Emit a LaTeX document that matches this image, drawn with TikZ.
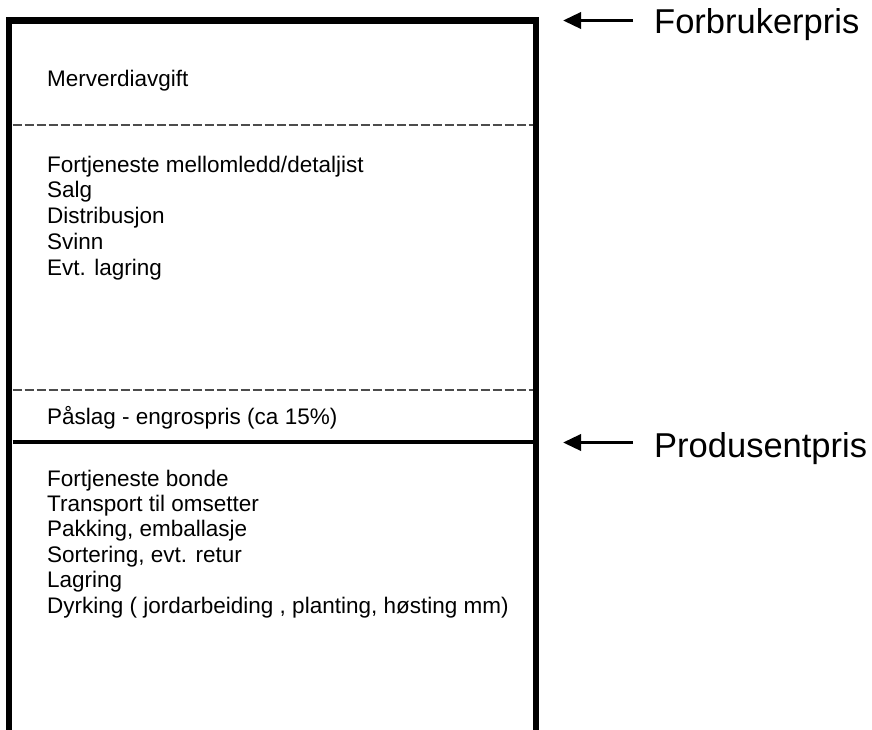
\documentclass[tikz,border=0pt]{standalone}
\usepackage{fontspec}
\setmainfont{Liberation Sans}
\usetikzlibrary{arrows.meta}
\begin{document}
\begin{tikzpicture}[x=1pt,y=-1pt,
  frame/.style={line width=6.5pt, line join=miter, line cap=rect},
  sep/.style={line width=4pt},
  dsep/.style={line width=1.8pt, draw=black!70, dash pattern=on 9pt off 3pt},
  body/.style={anchor=base west, inner sep=0pt, font=\fontsize{22.5}{26}\selectfont},
  big/.style={anchor=base west, inner sep=0pt, font=\fontsize{34.5}{40}\selectfont},
  arr/.style={line width=3.5pt, -{Triangle[length=18pt,width=16pt]}}]
\useasboundingbox (0,0) rectangle (872,729);
\fill[white] (0,0) rectangle (872,729);
% frame
\coordinate (tl) at (9,20.5);
\coordinate (tr) at (536,20.5);
\coordinate (bl) at (9,740);
\coordinate (br) at (536,740);
\draw[frame] (bl) -- (tl) -- (tr) -- (br);
% separators
\coordinate (d1l) at (12.5,125.3);
\coordinate (d1r) at (532.5,125.3);
\coordinate (d2l) at (12.5,390);
\coordinate (d2r) at (532.5,390);
\coordinate (sl) at (12.5,442);
\coordinate (sr) at (532.5,442);
\draw[dsep] (d1l) -- (d1r);
\draw[dsep] (d2l) -- (d2r);
\draw[sep] (sl) -- (sr);
% texts
\node[body] (mva) at (47,86) {Merverdiavgift};
\foreach \t [count=\i] in {Fortjeneste mellomledd/detaljist, Salg, Distribusjon, Svinn, Evt. lagring}
  \node[body] (a\i) at (47,{172+25.8*(\i-1)}) {\t};
\node[body] (pas) at (47,424) {Påslag - engrospris (ca 15\%)};
\foreach \t [count=\i] in {Fortjeneste bonde, Transport til omsetter, {Pakking, emballasje}, {Sortering, evt. retur}, Lagring, {Dyrking ( jordarbeiding , planting, høsting mm)}}
  \node[body] (b\i) at (47,{486+25.4*(\i-1)}) {\t};
% labels with arrows
\node[big] (forb) at (654,33.3) {Forbrukerpris};
\node[big] (prod) at (654,457.5) {Produsentpris};
\coordinate (ft) at (633,20.5);
\coordinate (fh) at (563,20.5);
\coordinate (pt) at (633,442.5);
\coordinate (ph) at (563,442.5);
\draw[arr] (ft) -- (fh);
\draw[arr] (pt) -- (ph);
\end{tikzpicture}
\end{document}
